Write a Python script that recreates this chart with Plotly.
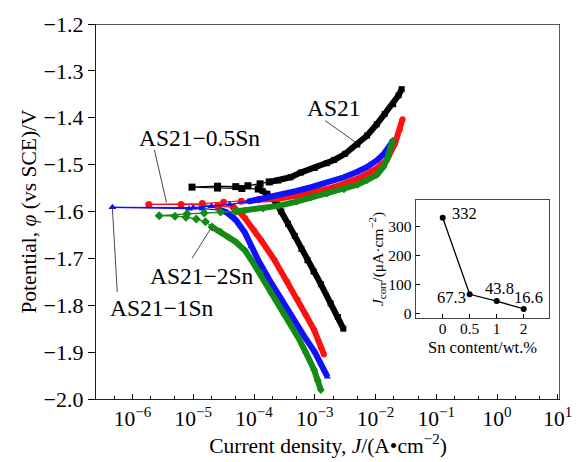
import plotly.graph_objects as go

# ---------------- data (log10 J in A/cm2, potential V vs SCE) ----------------
# AS21 (black squares)
as21_cath_logj = [-2.53, -2.62, -2.74, -2.90, -3.02, -3.12, -3.22, -3.33, -3.44, -3.55, -3.62, -3.70, -3.78, -3.86, -3.93]
as21_cath_v = [-1.850, -1.825, -1.796, -1.755, -1.728, -1.704, -1.680, -1.652, -1.626, -1.600, -1.585, -1.572, -1.562, -1.556, -1.552]
as21_mid_logj = [-3.93, -4.20, -4.60, -5.02, -4.60, -4.30, -4.10, -3.90, -3.75]
as21_mid_v = [-1.552, -1.551, -1.550, -1.548, -1.546, -1.547, -1.545, -1.541, -1.537]
as21_anod_logj = [-3.75, -3.60, -3.40, -3.23, -3.00, -2.80, -2.68, -2.50, -2.30, -2.14, -1.98, -1.85, -1.71, -1.62, -1.57]
as21_anod_v = [-1.537, -1.534, -1.527, -1.517, -1.507, -1.497, -1.490, -1.477, -1.457, -1.438, -1.414, -1.392, -1.371, -1.352, -1.339]

# AS21-0.5Sn (red circles)
sn05_cath_logj = [-2.85, -2.90, -3.01, -3.15, -3.28, -3.45, -3.66, -3.88, -4.00, -4.15, -4.25, -4.34]
sn05_cath_v = [-1.905, -1.890, -1.853, -1.820, -1.789, -1.750, -1.704, -1.662, -1.640, -1.614, -1.600, -1.591]
sn05_mid_logj = [-4.34, -4.60, -4.85, -5.20, -5.73, -4.85, -4.50, -4.21, -3.93]
sn05_mid_v = [-1.591, -1.588, -1.586, -1.585, -1.585, -1.583, -1.580, -1.578, -1.575]
sn05_anod_logj = [-3.93, -3.60, -3.30, -3.07, -2.80, -2.52, -2.25, -1.98, -1.82, -1.68, -1.60, -1.556]
sn05_anod_v = [-1.575, -1.573, -1.566, -1.560, -1.552, -1.541, -1.527, -1.508, -1.491, -1.455, -1.425, -1.403]

# AS21-1Sn (blue triangles)
sn1_cath_logj = [-2.79, -2.90, -3.00, -3.17, -3.35, -3.55, -3.75, -3.93, -4.05, -4.15, -4.30, -4.45, -4.55]
sn1_cath_v = [-1.953, -1.925, -1.900, -1.867, -1.830, -1.789, -1.745, -1.704, -1.675, -1.645, -1.618, -1.602, -1.597]
sn1_mid_logj = [-4.55, -4.85, -5.07, -6.33, -5.00, -4.70, -4.40, -4.10]
sn1_mid_v = [-1.597, -1.594, -1.594, -1.591, -1.592, -1.589, -1.585, -1.579]
sn1_anod_logj = [-4.10, -3.90, -3.60, -3.30, -3.06, -2.80, -2.52, -2.30, -2.14, -1.98, -1.87, -1.78, -1.71]
sn1_anod_v = [-1.579, -1.574, -1.566, -1.556, -1.548, -1.538, -1.527, -1.515, -1.505, -1.491, -1.478, -1.462, -1.449]

# AS21-2Sn (green diamonds)
sn2_cath_logj = [-2.90, -2.95, -3.01, -3.15, -3.28, -3.50, -3.71, -3.90, -4.04, -4.15, -4.30, -4.42, -4.55, -4.69]
sn2_cath_v = [-1.981, -1.960, -1.938, -1.900, -1.867, -1.820, -1.775, -1.730, -1.704, -1.683, -1.665, -1.655, -1.643, -1.633]
sn2_mid_logj = [-4.69, -4.80, -4.95, -5.12, -5.30, -5.56, -5.10, -4.82, -4.55, -4.30]
sn2_mid_v = [-1.633, -1.622, -1.616, -1.612, -1.610, -1.609, -1.605, -1.603, -1.601, -1.600]
sn2_anod_logj = [-4.30, -4.15, -3.85, -3.60, -3.30, -3.06, -2.80, -2.52, -2.30, -2.14, -1.98, -1.87, -1.80, -1.75, -1.72]
sn2_anod_v = [-1.600, -1.598, -1.594, -1.588, -1.579, -1.570, -1.562, -1.553, -1.543, -1.533, -1.522, -1.505, -1.485, -1.462, -1.449]

# inset: corrosion current density
sn_content_labels = ["0", "0.5", "1", "2"]
jcorr_values = [332, 67.3, 43.8, 16.6]
jcorr_texts = ["332", "67.3", "43.8", "16.6"]

x_tick_vals = [1e-6, 1e-5, 1e-4, 1e-3, 1e-2, 1e-1, 1e0, 1e1]
x_tick_text = ["10<sup>−6</sup>", "10<sup>−5</sup>", "10<sup>−4</sup>", "10<sup>−3</sup>",
               "10<sup>−2</sup>", "10<sup>−1</sup>", "10<sup>0</sup>", "10<sup>1</sup>"]
y_tick_vals = [-2.0, -1.9, -1.8, -1.7, -1.6, -1.5, -1.4, -1.3, -1.2]

FONT = "Liberation Serif"
X_RANGE = [-6.6, 1.035]
Y_RANGE = [-2.0, -1.2]

series = [
    ("AS21", "#000000", "square",
     as21_cath_logj, as21_cath_v, as21_mid_logj, as21_mid_v, as21_anod_logj, as21_anod_v),
    ("AS21−0.5Sn", "#ff1010", "circle",
     sn05_cath_logj, sn05_cath_v, sn05_mid_logj, sn05_mid_v, sn05_anod_logj, sn05_anod_v),
    ("AS21−1Sn", "#1010ff", "triangle-up",
     sn1_cath_logj, sn1_cath_v, sn1_mid_logj, sn1_mid_v, sn1_anod_logj, sn1_anod_v),
    ("AS21−2Sn", "#158a15", "diamond",
     sn2_cath_logj, sn2_cath_v, sn2_mid_logj, sn2_mid_v, sn2_anod_logj, sn2_anod_v),
]

fig = go.Figure()

for name, col, sym, cj, cv, mj, mv, aj, av in series:
    # thin segment near the corrosion potential
    fig.add_trace(go.Scatter(
        x=[10 ** v for v in mj], y=mv, mode="lines+markers",
        line=dict(color=col, width=1.3),
        marker=dict(symbol=sym, size=7, color=col),
        showlegend=False, xaxis="x", yaxis="y"))
    # dense cathodic and anodic branches
    for bj, bv in ((cj, cv), (aj, av)):
        fig.add_trace(go.Scatter(
            x=[10 ** v for v in bj], y=bv, mode="lines+markers",
            line=dict(color=col, width=6),
            marker=dict(symbol=sym, size=6, color=col),
            showlegend=False, xaxis="x", yaxis="y"))

# series labels with leader lines (label position and leader ends, log10 J / V)
labels = [
    ("AS21", -2.69, -1.379, (-2.83, -1.406, -2.30, -1.455)),
    ("AS21−0.5Sn", -4.89, -1.443, (-5.64, -1.468, -5.44, -1.581)),
    ("AS21−2Sn", -4.855, -1.738, (-5.02, -1.700, -4.71, -1.636)),
    ("AS21−1Sn", -5.52, -1.806, (-6.25, -1.772, -6.33, -1.594)),
]
for text, lx, ly, (x0, y0, x1, y1) in labels:
    fig.add_trace(go.Scatter(
        x=[10 ** x0, 10 ** x1], y=[y0, y1], mode="lines",
        line=dict(color="#333", width=0.9), showlegend=False,
        hoverinfo="skip", xaxis="x", yaxis="y"))
    fig.add_annotation(x=lx, y=ly, xref="x", yref="y", text=text, showarrow=False,
                       font=dict(family=FONT, size=23.5, color="black"),
                       xanchor="center", yanchor="middle")

# top and right frame edges of the main plot box
fig.add_trace(go.Scatter(
    x=[10 ** X_RANGE[0], 10 ** X_RANGE[1], 10 ** X_RANGE[1]],
    y=[Y_RANGE[1], Y_RANGE[1], Y_RANGE[0]], mode="lines",
    line=dict(color="#222", width=1.5), cliponaxis=False,
    showlegend=False, hoverinfo="skip", xaxis="x", yaxis="y"))

# inset
fig.add_trace(go.Scatter(
    x=[0, 1, 2, 3], y=jcorr_values, mode="lines+markers",
    line=dict(color="black", width=1.3),
    marker=dict(symbol="circle", size=6, color="black"),
    showlegend=False, xaxis="x2", yaxis="y2"))

fig.update_layout(
    width=584, height=462,
    margin=dict(l=96, r=19, t=23, b=63),
    paper_bgcolor="white", plot_bgcolor="white",
    font=dict(family=FONT, size=21, color="black"),
    xaxis=dict(
        type="log", range=X_RANGE,
        tickvals=x_tick_vals, ticktext=x_tick_text,
        ticks="inside", ticklen=5, tickwidth=1.2, tickcolor="black",
        minor=dict(ticks="inside", ticklen=3, tickwidth=1, tickcolor="black", showgrid=False),
        showline=True, linecolor="#222", linewidth=1.4, mirror=False,
        showgrid=False, zeroline=False,
        tickfont=dict(size=21.5),
        title=dict(text="Current density, <i>J</i>/(A•cm<sup>−2</sup>)", font=dict(size=21.5), standoff=0),
    ),
    yaxis=dict(
        range=Y_RANGE, tickvals=y_tick_vals, tickformat=".1f",
        ticks="outside", ticklen=7, tickwidth=1.2, tickcolor="black",
        showline=True, linecolor="#222", linewidth=1.4, mirror=False,
        showgrid=False, zeroline=False,
        tickfont=dict(size=22),
        title=dict(text="Potential, <i>φ</i> (vs SCE)/V", font=dict(size=21.5), standoff=0),
    ),
    xaxis2=dict(
        domain=[0.689, 0.977], anchor="y2", range=[-1, 3.95],
        tickvals=[0, 1, 2, 3], ticktext=sn_content_labels,
        ticks="inside", ticklen=4, tickcolor="black", ticklabelstandoff=-4,
        showline=True, linecolor="#444", linewidth=1.2, mirror=True,
        showgrid=False, zeroline=False,
        tickfont=dict(size=15.5),
    ),
    yaxis2=dict(
        domain=[0.215, 0.532], anchor="x2", range=[-16, 395],
        tickvals=[0, 100, 200, 300],
        ticks="inside", ticklen=4, tickcolor="black",
        showline=True, linecolor="#444", linewidth=1.2, mirror=True,
        showgrid=False, zeroline=False,
        tickfont=dict(size=15.5),
        title=dict(text="<i>J</i><sub>corr</sub>/(μA·cm<sup>−2</sup>)", font=dict(size=15.5), standoff=0),
    ),
)

# inset x-axis title
fig.add_annotation(x=0.834, y=0.137, xref="paper", yref="paper", text="Sn content/wt.%",
                   showarrow=False, font=dict(family=FONT, size=16.5, color="black"),
                   xanchor="center", yanchor="middle")

inset_label_pos = [(0.8, 348), (0.31, 57), (2.12, 89), (3.17, 56)]
for t, (ix, iy) in zip(jcorr_texts, inset_label_pos):
    fig.add_annotation(x=ix, y=iy, xref="x2", yref="y2", text=t, showarrow=False,
                       font=dict(family=FONT, size=16.5, color="black"),
                       xanchor="center", yanchor="middle")

fig.write_html("out.html")
